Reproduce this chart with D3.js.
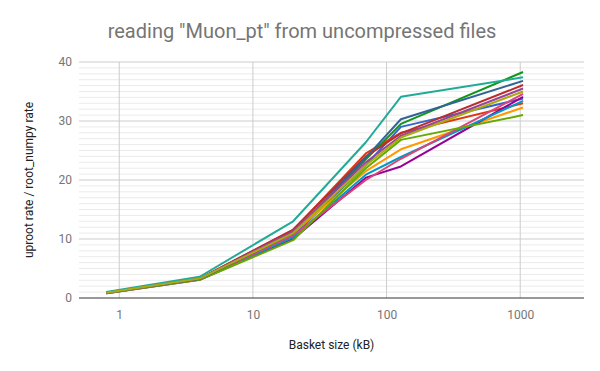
<!DOCTYPE html>
<html>
<head>
<meta charset="utf-8">
<script src="https://cdn.jsdelivr.net/npm/d3@7"></script>
<style>
body { margin: 0; background: #fff; }
text { font-family: Roboto, "Noto Sans", sans-serif; }
</style>
</head>
<body>
<svg width="600" height="371"></svg>
<script>
// basket sizes (kB) and the ratio for each run
var basketSizes = [0.8, 4, 20, 70, 128, 1050];
var xTicks = [1, 10, 100, 1000];
var yTicks = [0, 10, 20, 30, 40];

var s01 = [0.9, 3.2, 10.5, 22.5, 29.0, 33.8];
var s02 = [0.9, 3.3, 11.5, 24.5, 28.0, 33.0];
var s03 = [0.9, 3.3, 11.0, 21.5, 25.2, 32.3];
var s04 = [0.9, 3.3, 11.0, 23.5, 29.5, 38.3];
var s05 = [0.8, 3.1, 10.0, 20.4, 22.3, 34.1];
var s06 = [0.8, 3.2, 10.3, 20.9, 23.9, 33.4];
var s07 = [0.8, 3.2, 10.6, 20.0, 23.6, 34.6];
var s08 = [0.8, 3.1, 9.8, 22.0, 26.8, 31.0];
var s09 = [0.9, 3.3, 11.6, 24.0, 27.9, 36.1];
var s10 = [0.9, 3.2, 11.0, 23.8, 30.3, 36.8];
var s11 = [0.9, 3.3, 11.3, 23.0, 27.5, 35.5];
var s12 = [1.0, 3.6, 13.0, 26.4, 34.1, 37.4];
var s13 = [0.9, 3.3, 11.0, 22.5, 27.2, 35.0];

var series = [s01, s02, s03, s04, s05, s06, s07, s08, s09, s10, s11, s12, s13];
var colors = ["#3366cc", "#dc3912", "#ff9900", "#109618", "#990099", "#0099c6", "#dd4477",
              "#66aa00", "#b82e2e", "#316395", "#994499", "#22aa99", "#aaaa11"];

var svg = d3.select("svg");
var plotL = 79, plotR = 584, plotT = 62, plotB = 298;

var x = d3.scaleLog().domain([0.5, 3000]).range([plotL, plotR]);
var y = d3.scaleLinear().domain([0, 40]).range([plotB, plotT]);

svg.append("text")
  .attr("x", 302).attr("y", 38)
  .attr("text-anchor", "middle")
  .attr("font-size", "20px")
  .attr("fill", "#757575")
  .text('reading "Muon_pt" from uncompressed files');

// minor horizontal grid, every 1 unit
svg.append("g").selectAll("line")
  .data(d3.range(1, 40).filter(function(d) { return d % 10 != 0; }))
  .enter().append("line")
  .attr("x1", plotL).attr("x2", plotR)
  .attr("y1", function(d) { return y(d); })
  .attr("y2", function(d) { return y(d); })
  .attr("stroke", "#ebebeb").attr("stroke-width", 1);

// major horizontal grid
svg.append("g").selectAll("line")
  .data(yTicks.slice(1))
  .enter().append("line")
  .attr("x1", plotL).attr("x2", plotR)
  .attr("y1", function(d) { return y(d); })
  .attr("y2", function(d) { return y(d); })
  .attr("stroke", "#cccccc").attr("stroke-width", 1);

// vertical grid at decades
svg.append("g").selectAll("line")
  .data(xTicks)
  .enter().append("line")
  .attr("x1", function(d) { return x(d); })
  .attr("x2", function(d) { return x(d); })
  .attr("y1", plotT).attr("y2", plotB)
  .attr("stroke", "#cccccc").attr("stroke-width", 1);

// y axis labels
var yAxis = svg.append("g")
  .attr("transform", "translate(" + (plotL - 7) + ",0)")
  .call(d3.axisLeft(y).tickValues(yTicks).tickSize(0).tickPadding(0));
yAxis.select(".domain").remove();
yAxis.selectAll("text").attr("font-size", "12px").attr("fill", "#757575")
  .attr("font-family", "Roboto");

// x axis labels
var xAxis = svg.append("g")
  .attr("transform", "translate(0," + (plotB + 12) + ")")
  .call(d3.axisBottom(x).tickValues(xTicks).tickFormat(d3.format("d")).tickSize(0).tickPadding(0));
xAxis.select(".domain").remove();
xAxis.selectAll("text").attr("font-size", "12px").attr("fill", "#757575")
  .attr("font-family", "Roboto");

var line = d3.line()
  .x(function(d, i) { return x(basketSizes[i]); })
  .y(function(d) { return y(d); });

svg.append("g").selectAll("path")
  .data(series)
  .enter().append("path")
  .attr("d", line)
  .attr("fill", "none")
  .attr("stroke", function(d, i) { return colors[i]; })
  .attr("stroke-width", 2)
  .attr("stroke-linejoin", "round");

// baseline at zero
svg.append("line")
  .attr("x1", plotL).attr("x2", plotR)
  .attr("y1", y(0)).attr("y2", y(0))
  .attr("stroke", "#333333").attr("stroke-width", 1);

svg.append("text")
  .attr("x", (plotL + plotR) / 2).attr("y", 349)
  .attr("text-anchor", "middle")
  .attr("font-size", "12px")
  .attr("fill", "#222")
  .text("Basket size (kB)");

svg.append("text")
  .attr("transform", "translate(33," + ((plotT + plotB) / 2) + ") rotate(-90)")
  .attr("text-anchor", "middle")
  .attr("font-size", "12px")
  .attr("fill", "#222")
  .text("uproot rate / root_numpy rate");
</script>
</body>
</html>
